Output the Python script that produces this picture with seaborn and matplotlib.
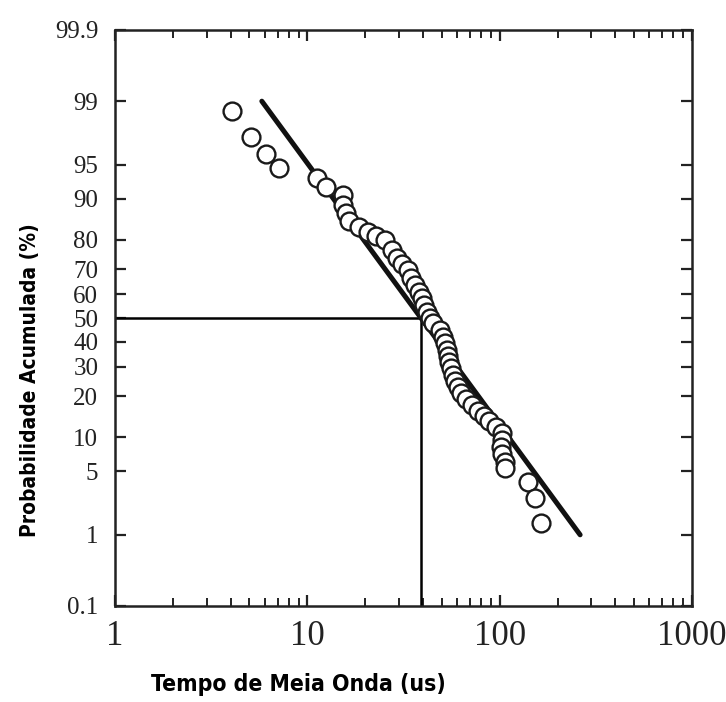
import numpy as np
import pandas as pd
import matplotlib
matplotlib.use("Agg")
import matplotlib.pyplot as plt
from matplotlib.ticker import FixedLocator, FixedFormatter, LogLocator, NullFormatter
import seaborn as sns
from statistics import NormalDist

# ---- data ----
tempo_us = [4.06, 5.10, 6.10, 7.13, 11.2, 12.5, 15.3, 15.3, 15.9, 16.5,
            18.6, 20.7, 22.8, 25.4, 27.6, 29.3, 31.1, 33.4, 34.6, 36.3,
            38.1, 39.5, 40.5, 41.9, 43.5, 45.1, 49.0, 50.8, 52.0, 53.3,
            53.9, 54.6, 55.9, 57.3, 58.6, 60.8, 63.0, 66.9, 71.9, 77.2,
            83.0, 88.1, 95.8, 103.0, 103.0, 101.7, 103.0, 106.7, 106.7, 140.5,
            152.8, 164.2]
prob_pct = [98.7, 97.4, 96.1, 94.6, 93.4, 92.0, 90.7, 88.7, 87.0, 85.1,
            83.6, 82.2, 81.1, 79.9, 76.7, 74.0, 71.9, 69.7, 66.6, 63.8,
            61.0, 58.5, 55.6, 52.6, 50.0, 47.9, 44.9, 41.9, 39.4, 36.6,
            34.2, 31.9, 29.6, 27.0, 25.0, 23.0, 21.0, 19.2, 17.5, 15.9,
            14.6, 13.5, 12.1, 10.9, 9.5, 8.3, 7.2, 6.1, 5.4, 3.9,
            2.7, 1.4]
fit_x = [5.8, 262.0]
fit_p = [99.0, 1.0]
median_x = 39.0
median_p = 50.0

y_ticks = [0.1, 1, 5, 10, 20, 30, 40, 50, 60, 70, 80, 90, 95, 99, 99.9]
y_labels = ["0.1", "1", "5", "10", "20", "30", "40", "50", "60", "70", "80", "90", "95", "99", "99.9"]
x_ticks = [1, 10, 100, 1000]
x_labels = ["1", "10", "100", "1000"]

df = pd.DataFrame({"tempo": tempo_us, "prob": prob_pct})
fit = pd.DataFrame({"tempo": fit_x, "prob": fit_p})

_nd = NormalDist()
_inv = np.vectorize(_nd.inv_cdf, otypes=[float])
_cdf = np.vectorize(_nd.cdf, otypes=[float])

def fwd(p):
    p = np.clip(np.asarray(p, dtype=float) / 100.0, 1e-12, 1 - 1e-12)
    return _inv(p)

def inv(z):
    return _cdf(np.asarray(z, dtype=float)) * 100.0

sns.set_style("ticks")
plt.rcParams["font.family"] = ["Liberation Serif", "DejaVu Serif"]

fig = plt.figure(figsize=(7.26, 7.02), dpi=100)
ax = fig.add_axes([115 / 726, 1 - 606 / 702, (692 - 115) / 726, (606 - 30) / 702])

ax.set_xscale("log")
ax.set_yscale("function", functions=(fwd, inv))
ax.set_xlim(1, 1000)
ax.set_ylim(0.1, 99.9)

# reference lines at the median
ax.plot([1, median_x], [median_p, median_p], color="black", lw=1.8, zorder=2)
ax.plot([median_x, median_x], [0.1, median_p], color="black", lw=1.8, zorder=2)

sns.lineplot(data=fit, x="tempo", y="prob", ax=ax, color="#111111", lw=3.6,
             sort=False, zorder=3)
sns.scatterplot(data=df, x="tempo", y="prob", ax=ax, s=165, marker="o",
                facecolor="white", edgecolor="#1a1a1a", linewidth=1.7, zorder=4)

ax.yaxis.set_major_locator(FixedLocator(y_ticks))
ax.yaxis.set_major_formatter(FixedFormatter(y_labels))
ax.yaxis.set_minor_locator(FixedLocator([]))
ax.xaxis.set_major_locator(FixedLocator(x_ticks))
ax.xaxis.set_major_formatter(FixedFormatter(x_labels))
ax.xaxis.set_minor_locator(LogLocator(base=10, subs=np.arange(2, 10)))
ax.xaxis.set_minor_formatter(NullFormatter())

ax.tick_params(axis="both", which="major", direction="in", length=8, width=1.6,
               top=True, right=True, color="#222222")
ax.tick_params(axis="x", which="minor", direction="in", length=6, width=1.4,
               top=True, color="#222222")
ax.tick_params(axis="y", labelsize=18, pad=12, labelcolor="#222222")
ax.tick_params(axis="x", labelsize=25, pad=10, labelcolor="#222222")

for sp in ax.spines.values():
    sp.set_linewidth(1.8)
    sp.set_color("#222222")

ax.set_xlabel("")
ax.set_ylabel("")

lab_font = dict(family=["Liberation Sans Narrow", "DejaVu Sans"], fontweight="bold",
                fontstretch="condensed", color="black")
fig.text(30 / 726, 1 - 380 / 702, "Probabilidade Acumulada (%)", rotation=90,
         ha="center", va="center", fontsize=15, **lab_font)
fig.text(298 / 726, 1 - 685 / 702, "Tempo de Meia Onda (us)",
         ha="center", va="center", fontsize=16.5, **lab_font)

fig.savefig("out.png", dpi=100, facecolor="white")
